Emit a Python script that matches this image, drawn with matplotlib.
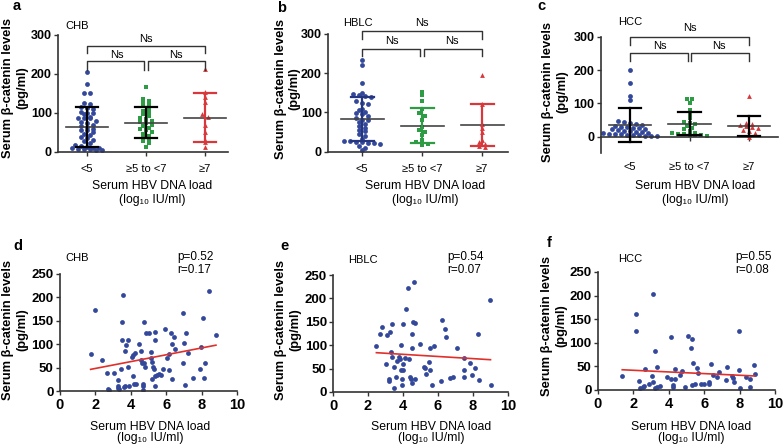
import numpy as np
import matplotlib.pyplot as plt

plt.rcParams['font.family'] = ['Liberation Sans', 'DejaVu Sans']

W, H = 784, 446

# HBV DNA load groups (log10 IU/ml)
groups = ['<5', '≥5 to <7', '≥7']

# top row: serum beta-catenin (pg/ml) in each load group
chb_lt5 = [205, 173, 150, 150, 126, 124, 115, 113, 110, 103, 101, 100, 97, 90, 88, 88, 87,
           80, 78, 75, 70, 67, 63, 60, 57, 55, 50, 47, 43, 38, 35, 30, 27, 24, 18, 15, 12,
           10, 10, 9, 8, 8, 7, 6, 5]
chb_mid = [167, 135, 130, 125, 122, 117, 110, 105, 102, 96, 92, 88, 85, 80, 77, 74, 70, 66,
           62, 58, 55, 50, 45, 40, 37, 33, 28, 22, 12]
chb_ge7 = [212, 153, 140, 128, 96, 90, 70, 50, 30, 25, 14]
chb_mean = [64, 75, 88]
chb_sd = [50, 39, 62]

hblc_lt5 = [234, 222, 175, 150, 148, 145, 143, 140, 128, 125, 122, 110, 107, 100, 98, 95, 90,
            85, 82, 80, 75, 70, 66, 60, 56, 52, 45, 40, 32, 28, 27, 25, 25, 23, 22, 20, 15, 10, 5]
hblc_mid = [153, 145, 130, 110, 108, 98, 92, 80, 62, 55, 50, 42, 30, 25, 22, 20, 18]
hblc_ge7 = [196, 122, 70, 60, 50, 30, 25, 20, 15, 12]
hblc_mean = [83, 66, 68]
hblc_sd = [57, 45, 53]

hcc_lt5 = [200, 160, 122, 110, 46, 43, 40, 38, 36, 33, 30, 28, 27, 25, 24, 22, 20, 18, 16, 15,
           13, 12, 10, 9, 8, 7, 6, 5, 4, 3, 2, 2]
hcc_mid = [113, 112, 100, 80, 68, 55, 45, 42, 38, 33, 25, 22, 18, 12, 10, 8, 7, 5, 5, 4, 3]
hcc_ge7 = [122, 40, 38, 35, 32, 28, 25, 20, 18, 12, 5, -2]
hcc_mean = [35, 39, 32]
hcc_sd = [50, 34, 31]

# bottom row: DNA load vs beta-catenin
chb_load = [1.73, 1.96, 2.35, 2.64, 2.70, 2.77, 3.05, 3.30, 3.30, 3.30, 3.33, 3.47, 3.50, 3.50,
            3.58, 3.62, 3.67, 3.67, 3.71, 3.82, 3.86, 3.90, 4.05, 4.10, 4.14, 4.18, 4.24, 4.29,
            4.48, 4.56, 4.58, 4.61, 4.67, 4.70, 4.73, 4.70, 4.75, 4.80, 4.86, 5.03, 5.12, 5.16,
            5.18, 5.20, 5.27, 5.33, 5.37, 5.39, 5.37, 5.46, 5.37, 5.61, 5.69, 5.80, 5.95, 6.03,
            6.14, 6.30, 6.27, 6.31, 6.50, 6.46, 6.14, 6.93, 7.00, 6.93, 7.08, 7.14, 7.25, 7.50,
            7.91, 7.95, 8.06, 8.15, 8.19, 8.40, 8.81]
chb_bcat = [78, 173, 66, 39, 4, 3, 38, 24, 11, 6, 4, 46, 147, 109, 205, 9, 11, 86, 98, 109, 52,
            11, 73, 32, 77, 14, 82, 14, 100, 85, 66, 59, 14, 11, 148, 2, 59, 52, 123, 123, 84,
            70, 63, 25, 52, 48, 109, 127, 31, 34, 11, 36, 34, 48, 132, 70, 80, 25, 123, 100, 89,
            116, 45, 166, 103, 59, 13, 123, 82, 27, 48, 95, 155, 27, 59, 214, 120]
chb_fit = (7.3, 33.6)  # slope, intercept
chb_stats = ('0.52', '0.17')

hblc_load = [2.48, 2.69, 2.82, 3.09, 3.05, 3.28, 3.39, 3.20, 3.20, 3.30, 3.39, 3.47, 3.49, 3.62,
             3.68, 3.75, 3.81, 3.89, 3.90, 3.92, 3.94, 3.98, 4.00, 4.02, 4.11, 4.17, 4.30, 4.34,
             4.38, 4.50, 4.51, 4.44, 4.53, 4.57, 4.61, 4.69, 4.69, 4.99, 5.18, 5.26, 5.30, 5.54,
             5.50, 5.52, 5.64, 5.77, 6.21, 6.17, 6.38, 6.44, 6.67, 6.86, 7.10, 7.49, 7.49, 7.49,
             7.81, 7.94, 8.10, 8.29, 8.34, 8.95, 9.00]
hblc_bcat = [98, 124, 139, 122, 59, 129, 145, 27, 24, 85, 75, 53, 8, 31, 67, 75, 70, 48, 100,
             27, 15, 59, 145, 47, 72, 177, 222, 71, 31, 95, 125, 27, 20, 150, 236, 148, 28, 103,
             53, 51, 38, 93, 65, 46, 16, 98, 153, 23, 134, 118, 29, 31, 95, 72, 48, 31, 63, 36,
             52, 124, 26, 197, 14]
hblc_fit = (-2.3, 89.7)
hblc_stats = ('0.54', '0.07')

hcc_load = [1.37, 2.17, 2.17, 2.30, 2.35, 2.54, 2.60, 2.64, 2.86, 3.05, 3.11, 3.11, 3.24, 3.24,
            3.35, 3.35, 3.50, 3.88, 4.10, 4.14, 4.24, 4.24, 4.33, 4.37, 4.61, 4.75, 4.93, 5.08,
            5.31, 5.24, 5.37, 5.33, 5.46, 5.57, 5.65, 5.84, 5.99, 6.27, 6.27, 6.37, 6.50, 6.72,
            6.82, 7.25, 7.31, 7.57, 7.63, 7.68, 7.95, 7.97, 8.00, 8.38, 8.57, 8.61, 8.81, 8.85]
hcc_bcat = [30, 162, 124, 20, 5, 7, 8, 44, 13, 30, 203, 18, 83, 4, 6, 48, 8, 27, 112, 24, 11, 7,
            23, 44, 32, 41, 7, 115, 108, 88, 58, 11, 13, 46, 37, 13, 13, 18, 13, 56, 32, 27, 38,
            21, 49, 30, 25, 18, 126, 42, 4, 28, 23, 7, 52, 34]
hcc_fit = (-1.76, 45.3)
hcc_stats = ('0.55', '0.08')

BLUE = '#33489a'
GREEN = '#2e9b45'
RED = '#d8383b'
AXC = '#333333'

fig = plt.figure(figsize=(W / 100, H / 100), dpi=100)


def px_axes(left, right, top, bottom):
    return fig.add_axes([left / W, 1 - bottom / H, (right - left) / W, (bottom - top) / H])


def ftext(x, y, s, **kw):
    fig.text(x / W, 1 - y / H, s, **kw)


def swarm(vals, binw, step):
    vals = np.asarray(vals, float)
    off = np.zeros(len(vals))
    bins = np.floor(vals / binw)
    for b in np.unique(bins):
        idx = np.where(bins == b)[0]
        off[idx] = (np.arange(len(idx)) - (len(idx) - 1) / 2) * step
    return off


def style(ax):
    for s in ['top', 'right']:
        ax.spines[s].set_visible(False)
    for s in ['left', 'bottom']:
        ax.spines[s].set_color(AXC)
        ax.spines[s].set_linewidth(1.2)


def strip_panel(ax, data, means, sds, bar_cols, binw, xlim, ylim, brackets, zero_axis=False):
    style(ax)
    if zero_axis:
        ax.spines['bottom'].set_position(('data', 0))
    markers = ['o', 's', '^']
    cols = [BLUE, GREEN, RED]
    for i, vals in enumerate(data):
        off = swarm(vals, binw, 0.1)
        ax.scatter(i + off, vals, marker=markers[i], s=12, color=cols[i], linewidths=0, zorder=2)
        m, sd = means[i], sds[i]
        ax.plot([i - 0.36, i + 0.36], [m, m], color='#444444', lw=1.2, zorder=3)
        ax.plot([i, i], [m - sd, m + sd], color=bar_cols[i], lw=1.6, zorder=3)
        for v in (m - sd, m + sd):
            ax.plot([i - 0.19, i + 0.19], [v, v], color=bar_cols[i], lw=1.6, zorder=3)
    ax.set_xlim(*xlim)
    ax.set_ylim(*ylim)
    ax.set_yticks([0, 100, 200, 300])
    ax.set_xticks(range(3))
    ax.set_xticklabels(groups)
    ax.tick_params(direction='out', length=3, width=1, color=AXC)
    ax.tick_params(axis='x', labelsize=8, pad=15 if zero_axis else 6)
    ax.tick_params(axis='y', labelsize=9, pad=1.5)
    for lab in ax.get_yticklabels():
        lab.set_fontweight('bold')
    # significance brackets
    (top_hi, top_lo, top_txt), (in_hi, in_lo, in_txt) = brackets
    kw = dict(color=AXC, lw=1, clip_on=False)
    ax.plot([0, 0, 2, 2], [top_lo, top_hi, top_hi, top_lo], **kw)
    ax.plot([0, 0, 0.97, 0.97], [in_lo, in_hi, in_hi, in_lo], **kw)
    ax.plot([1.03, 1.03, 2, 2], [in_lo, in_hi, in_hi, in_lo], **kw)
    tk = dict(ha='center', va='center', fontsize=8, clip_on=False)
    ax.text(1, top_txt, 'Ns', **tk)
    ax.text(0.5, in_txt, 'Ns', **tk)
    ax.text(1.5, in_txt, 'Ns', **tk)


def scatter_panel(ax, xs, ys, fit):
    style(ax)
    ax.scatter(xs, ys, s=12, color=BLUE, linewidths=0, zorder=2)
    xx = np.array([min(xs), max(xs)])
    ax.plot(xx, fit[0] * xx + fit[1], color='#e0302b', lw=1.2, zorder=3)
    ax.set_xlim(0, 10)
    ax.set_ylim(0, 250)
    ax.set_xticks(range(0, 11, 2))
    ax.set_yticks(range(0, 251, 50))
    ax.tick_params(direction='out', length=3, width=1, color=AXC)
    ax.tick_params(axis='y', labelsize=9.5, pad=1.5)
    ax.tick_params(axis='x', labelsize=10.5, pad=2)
    for lab in ax.get_yticklabels() + ax.get_xticklabels():
        lab.set_fontweight('bold')


# ---- top row ----
ax_a = px_axes(58, 228, 34.7, 152)
strip_panel(ax_a, [chb_lt5, chb_mid, chb_ge7], chb_mean, chb_sd,
            ['black', 'black', RED], 10, (-0.49, 2.39), (0, 300),
            [(270, 252, 290), (233, 209, 247)])

ax_b = px_axes(328, 508, 34, 151.7)
strip_panel(ax_b, [hblc_lt5, hblc_mid, hblc_ge7], hblc_mean, hblc_sd,
            ['#24367f', GREEN, RED], 10, (-0.57, 2.43), (0, 300),
            [(307, 287, 327), (263, 244, 283)])

ax_c = px_axes(601, 778, 36.7, 153.4)
strip_panel(ax_c, [hcc_lt5, hcc_mid, hcc_ge7], hcc_mean, hcc_sd,
            ['black', 'black', 'black'], 12, (-0.49, 2.49), (-50, 300),
            [(300, 275, 325), (252, 227, 273)], zero_axis=True)

# ---- bottom row ----
ax_d = px_axes(60, 237, 274, 391)
scatter_panel(ax_d, chb_load, chb_bcat, chb_fit)
ax_e = px_axes(333, 508, 275, 392)
scatter_panel(ax_e, hblc_load, hblc_bcat, hblc_fit)
ax_f = px_axes(598, 775, 272, 390)
scatter_panel(ax_f, hcc_load, hcc_bcat, hcc_fit)

# ---- labels ----
ylab = 'Serum β-catenin levels\n(pg/ml)'
yk = dict(rotation=90, ha='center', va='center', fontsize=9.3, fontweight='bold',
          linespacing=1.2, multialignment='center')
for x, y in [(15, 88), (287.5, 89), (555, 92), (15, 330), (288, 330), (554, 326)]:
    ftext(x, y, ylab, **yk)

xlab = 'Serum HBV DNA load\n(log₁₀ IU/ml)'
xk = dict(ha='center', va='center', fontsize=8.8, multialignment='center')
for x in [152, 425, 695]:
    ftext(x, 193, xlab, linespacing=1.15, **xk)
for x in [150, 431, 691]:
    ftext(x, 432.5, xlab, linespacing=0.98, **xk)

lk = dict(ha='left', va='baseline', fontsize=10.5, fontweight='bold')
for s, x, y in [('a', 13, 10), ('b', 277, 11.5), ('c', 537, 10),
                ('d', 13, 250), ('e', 280, 250), ('f', 547, 247)]:
    ftext(x, y, s, **lk)

tk = dict(ha='left', va='baseline', fontsize=8)
for s, x, y in [('CHB', 65, 29), ('HBLC', 343, 26), ('HCC', 618, 25),
                ('CHB', 65, 261), ('HBLC', 348, 263), ('HCC', 618, 262)]:
    ftext(x, y, s, **tk)

for (p, r), x in [(chb_stats, 177), (hblc_stats, 447), (hcc_stats, 735)]:
    ftext(x, 257, 'p=' + p, ha='left', va='center', fontsize=8.5)
    ftext(x, 270, 'r=' + r, ha='left', va='center', fontsize=8.5)

fig.savefig('out.png', dpi=100)
